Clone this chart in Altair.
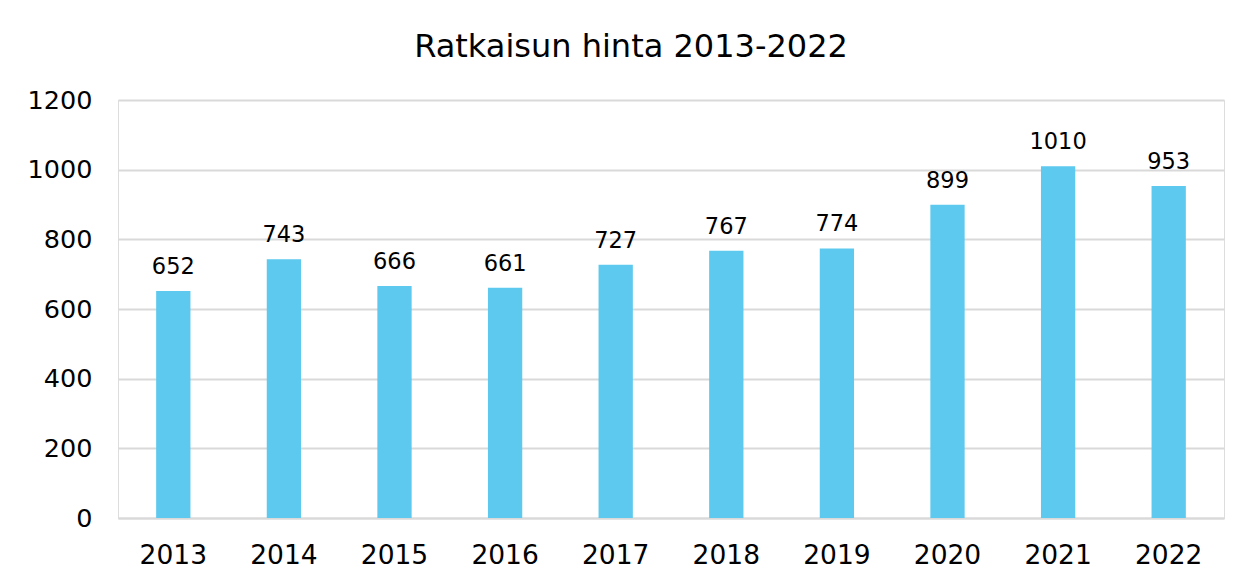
import altair as alt
import pandas as pd

years = ["2013", "2014", "2015", "2016", "2017", "2018", "2019", "2020", "2021", "2022"]
values = [652, 743, 666, 661, 727, 767, 774, 899, 1010, 953]

df = pd.DataFrame({"year": years, "value": values})

FONT = "DejaVu Sans"

base = alt.Chart(df).encode(
    x=alt.X("year:N", sort=years, title=None,
            scale=alt.Scale(paddingInner=0.69, paddingOuter=0.345),
            axis=alt.Axis(labelAngle=0, labelFontSize=26.5, labelColor="#000000",
                          labelFont=FONT, ticks=False, domainColor="#D9D9D9",
                          domainWidth=2, labelPadding=24)),
    y=alt.Y("value:Q", title=None,
            scale=alt.Scale(domain=[0, 1200]),
            axis=alt.Axis(values=[0, 200, 400, 600, 800, 1000, 1200], format="d",
                          labelFontSize=25.5, labelColor="#000000", labelFont=FONT,
                          ticks=False, domain=False, gridColor="#D9D9D9",
                          gridWidth=2, labelPadding=26)),
)

bars = base.mark_bar(color="#5DC9EE")
labels = base.mark_text(dy=-12, baseline="bottom", fontSize=22.5, font=FONT,
                        color="#000000").encode(text="value:Q")

chart = (bars + labels).properties(
    width=1106, height=418,
    title=alt.TitleParams("Ratkaisun hinta 2013-2022", fontSize=32, font=FONT,
                          fontWeight="normal", color="#000000", offset=24, dx=-40),
    autosize=alt.AutoSizeParams(type="none"),
    padding={"left": 110, "top": 92, "right": 18, "bottom": 56},
).configure_view(stroke=None).configure(background="#FFFFFF")

chart.save("out.html", embed_options={"renderer": "svg", "actions": False})
